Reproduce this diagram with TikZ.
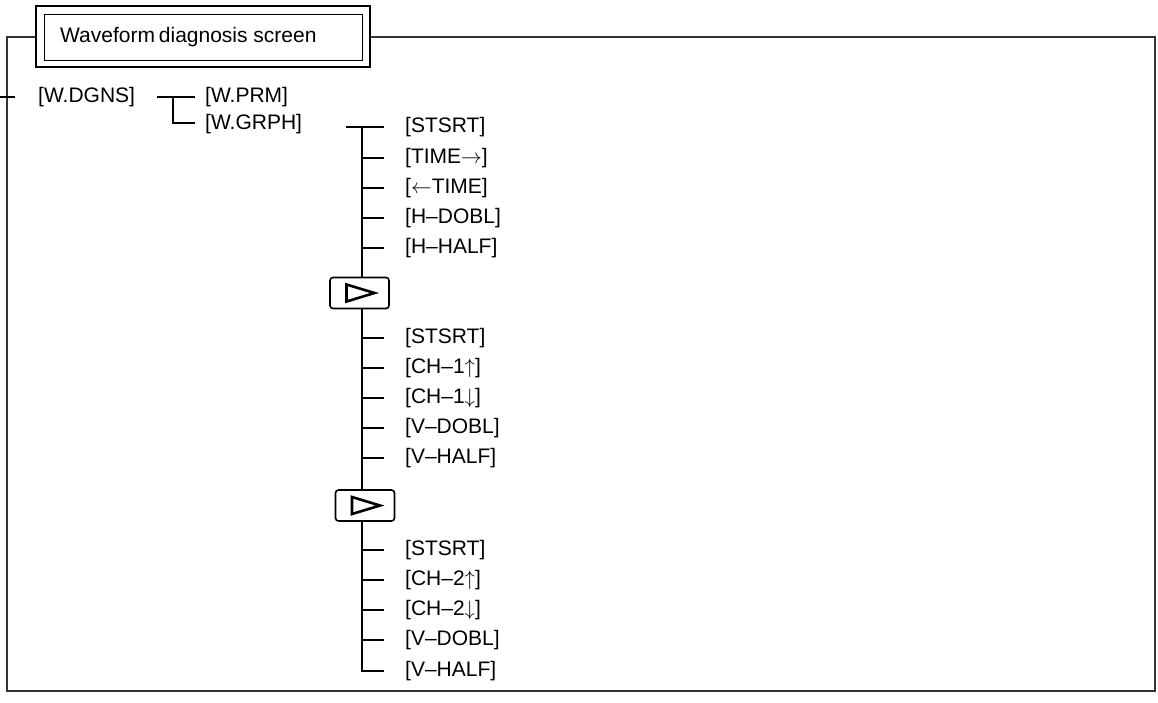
\documentclass[tikz,border=0pt]{standalone}
\usepackage{fontspec}
\setmainfont{Liberation Sans}
\newcommand{\ra}{\ensuremath{\rightarrow}}
\newcommand{\la}{\ensuremath{\leftarrow}}
\newcommand{\ua}{\ensuremath{\uparrow}}
\newcommand{\da}{\ensuremath{\downarrow}}
\begin{document}
\begin{tikzpicture}[x=1pt,y=-1pt,
  lbl/.style={anchor=west,inner sep=0pt,font=\fontsize{21}{23}\selectfont},
  frameline/.style={line width=1.4pt,draw=black!80},
  tree/.style={line width=1.8pt},
  nextbox/.style={draw,line width=1.6pt,rounded corners=3pt,minimum width=59pt,minimum height=31pt,inner sep=0pt}]
\useasboundingbox (0,0) rectangle (1158,702);
% title
\node[draw,line width=2pt,minimum width=334pt,minimum height=61pt,inner sep=0pt] (title) at (203,36.5) {};
\node[draw,line width=1pt,minimum width=318pt,minimum height=46pt,inner sep=0pt] (titlein) at (203,37) {};
\node[lbl] (ttext) at (60,37) {Waveform\hspace{-2pt} diagnosis screen};
% frame
\draw[frameline] (title.west |- 0,37) -- (7,37) -- (7,691) -- (1155,691) -- (1155,37) -- (title.east |- 0,37);
\draw[tree] (0,97) -- (15,97);
% level 1
\node[lbl] (dgns) at (38,97) {[W.DGNS]};
\node[lbl] (prm) at (205,97) {[W.PRM]};
\node[lbl] (grph) at (205,124) {[W.GRPH]};
\coordinate (j1) at (173,97);
\draw[tree] (157,97) -- ([xshift=-10pt]prm.west);
\draw[tree] (j1) |- ([xshift=-10pt]grph.west |- 0,123);
% spine
\coordinate (sp) at (362,127);
\node[nextbox] (b1) at (359.5,293) {};
\node[nextbox] (b2) at (365,505.5) {};
\foreach \b in {b1,b2}{
  \draw[line width=2.6pt,line join=miter] ([shift={(-13,-8.5)}]\b.center) -- ([shift={(-13,8.5)}]\b.center) -- ([shift={(15,0)}]\b.center) -- cycle;
}
\draw[tree] (346,127) -- (384,127);
\draw[tree] (sp) -- (sp |- b1.north);
\draw[tree] (sp |- b1.south) -- (sp |- b2.north);
% labels
\foreach \n/\y/\t in {a1/127/{[STSRT]},a2/158/{[TIME\ra]},a3/188/{[\la TIME]},a4/218/{[H–DOBL]},a5/248/{[H–HALF]},
  c1/338/{[STSRT]},c2/368/{[CH–1\ua]},c3/398/{[CH–1\da]},c4/428/{[V–DOBL]},c5/458/{[V–HALF]},
  d1/550/{[STSRT]},d2/580/{[CH–2\ua]},d3/610/{[CH–2\da]},d4/640/{[V–DOBL]},d5/671/{[V–HALF]}}{
  \node[lbl] (\n) at (405,\y) {\t};
}
\foreach \n in {a2,a3,a4,a5,c1,c2,c3,c4,c5,d1,d2,d3,d4}{
  \draw[tree] (sp |- \n.west) -- ([xshift=-21pt]\n.west);
}
\draw[tree] (sp |- b2.south) |- ([xshift=-21pt]d5.west);
\end{tikzpicture}
\end{document}
